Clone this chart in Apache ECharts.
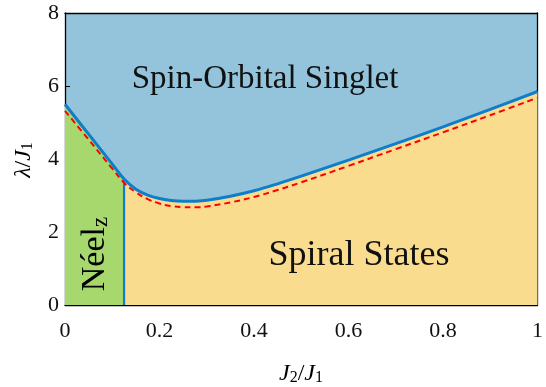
<!DOCTYPE html>
<html>
<head>
<meta charset="utf-8">
<script src="https://cdn.jsdelivr.net/npm/echarts@6/dist/echarts.min.js"></script>
<style>html,body{margin:0;padding:0;background:#fff}#c{width:546px;height:387px}</style>
</head>
<body>
<div id="c"></div>
<script>
// ---- data ----
var xTicks = [0, 0.2, 0.4, 0.6, 0.8, 1];
var yTicks = [0, 2, 4, 6, 8];
var neelBoundaryX = 0.125;
// blue boundary (Spin-Orbital Singlet transition)
var blueX = [0, 0.05, 0.1, 0.125, 0.15, 0.175, 0.2, 0.225, 0.25, 0.275, 0.3, 0.35, 0.4, 0.45, 0.5, 0.6, 0.7, 0.8, 0.9, 1.0];
var blueY = [5.5, 4.68, 3.86, 3.45, 3.17, 3.01, 2.92, 2.86, 2.84, 2.845, 2.87, 2.98, 3.13, 3.32, 3.53, 3.97, 4.42, 4.88, 5.36, 5.85];
// red dashed boundary
var redX = [0, 0.05, 0.1, 0.125, 0.15, 0.175, 0.2, 0.225, 0.25, 0.275, 0.3, 0.35, 0.4, 0.45, 0.5, 0.6, 0.7, 0.8, 0.9, 1.0];
var redY = [5.32, 4.53, 3.74, 3.35, 3.09, 2.90, 2.78, 2.71, 2.68, 2.675, 2.70, 2.81, 2.96, 3.15, 3.36, 3.81, 4.27, 4.73, 5.20, 5.68];
var regionLabels = ['Spin-Orbital Singlet', 'Spiral States', 'Néel', 'z'];

// ---- build ----
var serif = 'Liberation Serif';
function pairs(xs, ys) { return xs.map(function (x, i) { return [x, ys[i]]; }); }
var bluePts = pairs(blueX, blueY);
var redPts = pairs(redX, redY);
var greenPts = bluePts.filter(function (p) { return p[0] <= neelBoundaryX; });
var yellowPts = bluePts.filter(function (p) { return p[0] >= neelBoundaryX; });
var neelTop = blueY[blueX.indexOf(neelBoundaryX)];

var chart = echarts.init(document.getElementById('c'), null, { renderer: 'canvas' });
var L = 65, R = 8, T = 13, B = 82;
var sm = 0.4;
function bigText(x, y, txt, size) {
  return { type: 'text', x: x, y: y, z: 100,
    style: { text: txt, fontFamily: serif, fontSize: size, fill: '#111', align: 'center', verticalAlign: 'middle' } };
}
var mathRich = {
  i: { fontFamily: serif, fontStyle: 'italic', fontSize: 24, lineHeight: 24, color: '#111' },
  n: { fontFamily: serif, fontSize: 24, lineHeight: 24, color: '#111' },
  s: { fontFamily: serif, fontSize: 16, lineHeight: 10, verticalAlign: 'bottom', color: '#111' }
};
var option = {
  animation: false,
  grid: { left: L, right: R, top: T, bottom: B, show: true, backgroundColor: '#93c4dc', borderWidth: 0 },
  xAxis: [{
    type: 'value', min: 0, max: 1, interval: 0.2,
    axisLine: { show: true, onZero: false, lineStyle: { color: '#000', width: 1.3 } },
    axisTick: { show: true, inside: true, length: 5, lineStyle: { color: '#000', width: 1 } },
    axisLabel: { margin: 15, fontFamily: serif, fontSize: 22, color: '#111',
      formatter: function (v) { return String(+v.toFixed(1)); } },
    splitLine: { show: false }
  }, {
    type: 'value', min: 0, max: 1, position: 'top',
    axisLine: { show: true, onZero: false, lineStyle: { color: '#000', width: 1.3 } },
    axisTick: { show: false }, axisLabel: { show: false }, splitLine: { show: false }
  }],
  yAxis: [{
    type: 'value', min: 0, max: 8, interval: 2,
    axisLine: { show: true, onZero: false, lineStyle: { color: '#000', width: 1.3 } },
    axisTick: { show: true, inside: true, length: 5, lineStyle: { color: '#000', width: 1 } },
    axisLabel: { margin: 6, fontFamily: serif, fontSize: 22, color: '#111' },
    splitLine: { show: false }
  }, {
    type: 'value', min: 0, max: 8, position: 'right',
    axisLine: { show: true, onZero: false, lineStyle: { color: '#000', width: 1.3 } },
    axisTick: { show: false }, axisLabel: { show: false }, splitLine: { show: false }
  }],
  series: [
    { type: 'line', data: greenPts, smooth: sm, symbol: 'none', lineStyle: { width: 0 },
      areaStyle: { color: '#a6d86e', opacity: 1 }, z: 1 },
    { type: 'line', data: yellowPts, smooth: sm, symbol: 'none', lineStyle: { width: 0 },
      areaStyle: { color: '#fadc8e', opacity: 1 }, z: 1 },
    { type: 'line', data: [[neelBoundaryX, 0], [neelBoundaryX, neelTop]], symbol: 'none',
      lineStyle: { color: '#0e7dcb', width: 2.2 }, z: 3 },
    { type: 'line', data: redPts, smooth: sm, symbol: 'none',
      lineStyle: { color: '#ff0000', width: 2, type: [6, 4] }, z: 4 },
    { type: 'line', data: bluePts, smooth: sm, symbol: 'none',
      lineStyle: { color: '#0e7dcb', width: 3 }, z: 5 }
  ],
  graphic: [
    bigText(265, 79, regionLabels[0], 33),
    bigText(359, 256, regionLabels[1], 36),
    { type: 'text', x: 95, y: 254, rotation: Math.PI / 2, z: 100,
      style: { text: '{a|' + regionLabels[2] + '}{s|' + regionLabels[3] + '}', align: 'center', verticalAlign: 'middle',
        rich: { a: { fontFamily: serif, fontSize: 34, lineHeight: 34, color: '#111' },
                s: { fontFamily: serif, fontSize: 23, lineHeight: 14, verticalAlign: 'bottom', color: '#111' } } } },
    { type: 'text', x: 301, y: 374, z: 100,
      style: { text: '{i|J}{s|2}{n|/}{i|J}{s|1}', align: 'center', verticalAlign: 'middle', rich: mathRich } },
    { type: 'text', x: 24, y: 160, rotation: Math.PI / 2, z: 100,
      style: { text: '{i|λ}{n|/}{i|J}{s|1}', align: 'center', verticalAlign: 'middle', rich: mathRich } }
  ]
};
chart.setOption(option);
</script>
</body>
</html>
